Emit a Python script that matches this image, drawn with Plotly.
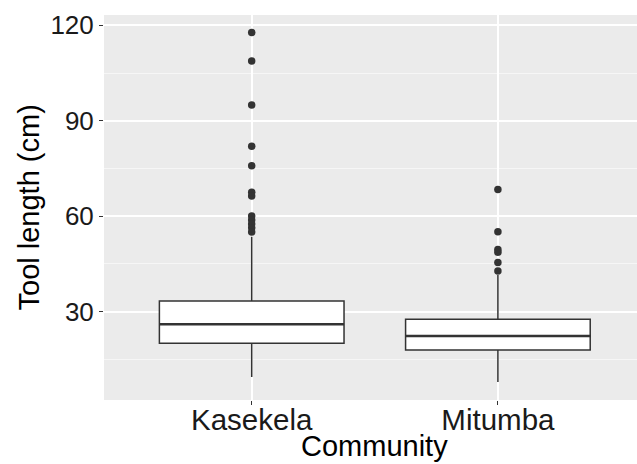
import plotly.graph_objects as go

categories = ["Kasekela", "Mitumba"]
q1 = [20.0, 17.9]
median = [26.0, 22.3]
q3 = [33.3, 27.6]
lower_whisker = [9.4, 7.8]
upper_whisker = [53.5, 41.5]
kasekela_outliers = [117.7, 108.8, 94.9, 82.0, 75.8, 67.5, 66.3, 60.0, 58.8, 57.5, 56.3, 55.0]
mitumba_outliers = [68.4, 55.1, 49.5, 48.6, 45.4, 42.7]
y_ticks = [30, 60, 90, 120]

box_width = 0.75
positions = list(range(len(categories)))
dark = "#333333"

fig = go.Figure()
fig.add_trace(go.Box(
    x=positions, q1=q1, median=median, q3=q3,
    lowerfence=lower_whisker, upperfence=upper_whisker,
    width=box_width, fillcolor="white",
    line=dict(color=dark, width=1.5), whiskerwidth=0,
    boxpoints=False, hoverinfo="skip", showlegend=False,
))
# thicker median lines (ggplot style)
for p, m in zip(positions, median):
    fig.add_trace(go.Scatter(
        x=[p - box_width / 2, p + box_width / 2], y=[m, m], mode="lines",
        line=dict(color=dark, width=2.6), showlegend=False, hoverinfo="skip"))
for p, outs in zip(positions, [kasekela_outliers, mitumba_outliers]):
    fig.add_trace(go.Scatter(
        x=[p] * len(outs), y=outs, mode="markers",
        marker=dict(color=dark, size=7.5, line=dict(width=0)),
        showlegend=False, hoverinfo="skip"))

fig.update_layout(
    width=637, height=464,
    margin=dict(l=104, r=0, t=15, b=64, autoexpand=False),
    paper_bgcolor="white", plot_bgcolor="#EBEBEB",
    font=dict(family="Liberation Sans, Arial, sans-serif", color="black"),
    xaxis=dict(
        range=[-0.6, 1.565], tickvals=positions, ticktext=categories,
        showgrid=True, gridcolor="white", gridwidth=1.5, zeroline=False,
        ticks="outside", ticklen=4, tickcolor=dark, tickwidth=1,
        tickfont=dict(size=29.5, color="#1a1a1a"), showline=False,
        ticklabelstandoff=-10,
    ),
    yaxis=dict(
        range=[2.17, 123.24], tickvals=y_ticks,
        showgrid=True, gridcolor="white", gridwidth=1.5, zeroline=False,
        minor=dict(dtick=15, tick0=15, showgrid=True, gridcolor="#F6F6F6", gridwidth=0.8),
        ticks="outside", ticklen=4, tickcolor=dark, tickwidth=1,
        tickfont=dict(size=26, color="#1a1a1a"), showline=False,
    ),
    annotations=[
        dict(text="Community", xref="paper", yref="paper", x=(374 - 104) / 533,
             y=(400 - 446) / 385, xanchor="center", yanchor="middle",
             showarrow=False, font=dict(size=29, color="black")),
        dict(text="Tool length (cm)", xref="paper", yref="paper", x=(28 - 104) / 533,
             y=0.5, xanchor="center", yanchor="middle", textangle=-90,
             showarrow=False, font=dict(size=29, color="black")),
    ],
)

fig.write_html("out.html", config={"displayModeBar": False},
               post_script="document.body.style.margin='0';document.body.style.overflow='hidden';")
